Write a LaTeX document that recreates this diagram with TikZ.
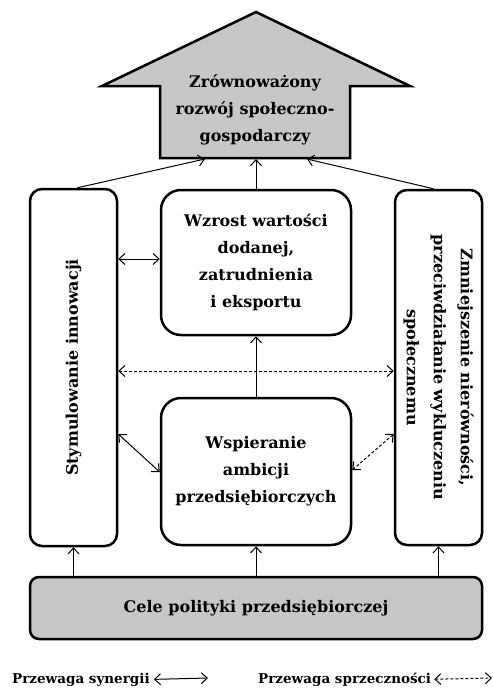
\documentclass[tikz,border=0pt]{standalone}
\usepackage{fontspec}
\setmainfont{DejaVu Serif}
\usetikzlibrary{arrows.meta}
\definecolor{boxgray}{gray}{0.78}
\tikzset{
  txt/.style={font=\bfseries\fontsize{16}{27}\selectfont, align=center, text=black},
  goalbox/.style={line width=2.5pt, draw=black, rounded corners=0pt},
  sidebox/.style={draw, line width=2.5pt, rounded corners=12pt, inner sep=0pt, txt},
  midbox/.style={draw, line width=2.5pt, rounded corners=20pt, inner sep=0pt, txt,
    minimum width=190pt},
  basebox/.style={draw, line width=2.5pt, rounded corners=9pt, fill=boxgray, inner sep=0pt, txt,
    minimum width=452pt, minimum height=62pt},
  link/.style={line width=1pt, -{Straight Barb[length=6pt,width=11pt,line width=1pt]}},
  syn/.style={line width=1pt, {Straight Barb[length=6pt,width=11pt,line width=1pt]}-{Straight Barb[length=6pt,width=11pt,line width=1pt]}},
  contra/.style={syn, dash pattern=on 3pt off 2pt},
  legtxt/.style={font=\bfseries\fontsize{13.5}{18}\selectfont, inner sep=0pt}
}
\begin{document}
\begin{tikzpicture}[x=1pt,y=-1pt]
\useasboundingbox (0,0) rectangle (493,689);

% goal arrow
\draw[goalbox, fill=boxgray] (256,12) -- (410,86) -- (350,86) -- (350,158)
  -- (160,158) -- (160,86) -- (102,86) -- cycle;
\node[txt] (goal) at (255,110) {Zrównoważony\\rozwój społeczno-\\gospodarczy};
\coordinate (goalL) at (205,159);
\coordinate (goalM) at (256,159);
\coordinate (goalR) at (307,159);

% objectives
\node[sidebox, minimum width=87pt, minimum height=357pt] (innov) at (73.5,367.5) {};
\node[txt, rotate=90] at (innov.center) {Stymulowanie innowacji};

\node[sidebox, minimum width=87pt, minimum height=355pt] (ineq) at (438.5,367.5) {};
\node[txt, rotate=-90] at (ineq.center) {Zmniejszenie nierówności,\\przeciwdziałanie wykluczeniu\\społecznemu};

\node[midbox, minimum height=145pt] (growth) at (256,262.5) {Wzrost wartości\\dodanej,\\zatrudnienia\\i eksportu};
\node[midbox, minimum height=147pt] (ambit) at (256,471.5) {Wspieranie\\ambicji\\przedsiębiorczych};

\node[basebox] (base) at (256,608) {Cele polityki przedsiębiorczej};

% upward links
\draw[link] (innov.north) ++(4,0) coordinate (iT) -- (goalL);
\draw[link] (growth.north) -- (goalM);
\draw[link] (ineq.north) ++(-5,0) coordinate (qT) -- (goalR);
\draw[link] (ambit.north) -- (growth.south);
\draw[link] (base.north -| innov.south) -- (innov.south);
\draw[link] (base.north) -- (ambit.south);
\draw[link] (base.north -| ineq.south) -- (ineq.south);

% mutual relations
\draw[syn] (innov.east |- 0,259) -- (growth.west |- 0,259);
\draw[contra] (innov.east |- 0,371) -- (ineq.west |- 0,371);
\draw[syn] (innov.east |- 0,434) -- (ambit.west |- 0,472);
\draw[contra] (ineq.west |- 0,434) -- (ambit.east |- 0,470);

% legend
\node[legtxt, anchor=base west] (leg1) at (12,683) {Przewaga synergii};
\coordinate (leg1e) at (208,678);
\draw[syn] (leg1.east) ++(4,0) -- (leg1e);
\node[legtxt, anchor=base west] (leg2) at (258,683) {Przewaga sprzeczności};
\coordinate (leg2e) at (492,678);
\draw[contra] (leg2.east) ++(3,0) -- (leg2e);
\end{tikzpicture}
\end{document}
